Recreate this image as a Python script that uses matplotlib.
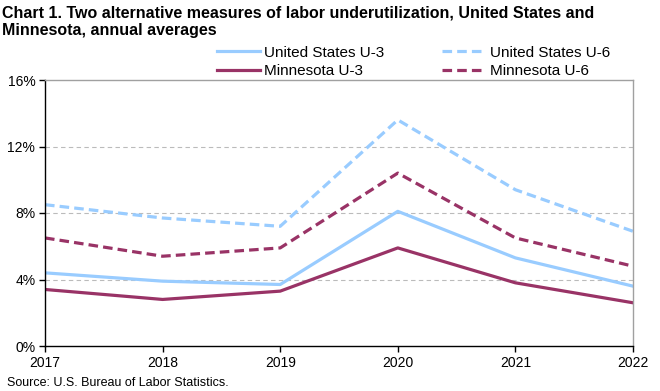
import matplotlib.pyplot as plt
from matplotlib.ticker import FuncFormatter

plt.rcParams["font.family"] = ["Liberation Sans", "DejaVu Sans"]

years = [2017, 2018, 2019, 2020, 2021, 2022]
us_u3 = [4.4, 3.9, 3.7, 8.1, 5.3, 3.6]
us_u6 = [8.5, 7.7, 7.2, 13.6, 9.4, 6.9]
mn_u3 = [3.4, 2.8, 3.3, 5.9, 3.8, 2.6]
mn_u6 = [6.5, 5.4, 5.9, 10.4, 6.5, 4.8]
y_ticks = [0, 4, 8, 12, 16]

LIGHT_BLUE = "#99CCFF"
MAROON = "#993366"

fig = plt.figure(figsize=(6.6, 3.91), dpi=100)
ax = fig.add_axes([45 / 660, 1 - 346 / 391, 588 / 660, 266 / 391])

ax.plot(years, us_u3, color=LIGHT_BLUE, lw=2.3, label="United States U-3")
ax.plot(years, mn_u3, color=MAROON, lw=2.3, label="Minnesota U-3")
ax.plot(years, us_u6, color=LIGHT_BLUE, lw=2.3, ls=(0, (3, 1.6)), label="United States U-6")
ax.plot(years, mn_u6, color=MAROON, lw=2.3, ls=(0, (3, 1.6)), label="Minnesota U-6")

ax.set_xlim(years[0], years[-1])
ax.set_ylim(y_ticks[0], y_ticks[-1])
ax.set_xticks(years)
ax.set_yticks(y_ticks)
ax.yaxis.set_major_formatter(FuncFormatter(lambda v, _: f"{v:.0f}%"))
ax.tick_params(labelsize=10, length=4, width=1, colors="black", pad=3)

for y in y_ticks[1:-1]:
    ax.axhline(y, color="#BBBBBB", lw=0.8, ls=(0, (4, 3)), zorder=0)

ax.spines["left"].set_color("black")
ax.spines["bottom"].set_color("black")
ax.spines["top"].set_color("#A0A0A0")
ax.spines["right"].set_color("#A0A0A0")
for s in ax.spines.values():
    s.set_linewidth(1)

leg = fig.legend(
    loc="upper left", bbox_to_anchor=(203 / 660, 1 - 32 / 391), ncol=2,
    frameon=False, fontsize=11, handlelength=2.8, handletextpad=0.3,
    columnspacing=3.8, labelspacing=0.3,
)

fig.text(0.003, 0.985, "Chart 1. Two alternative measures of labor underutilization, United States and\nMinnesota, annual averages",
         fontsize=11.5, fontweight="bold", va="top", ha="left", linespacing=1.15)
fig.text(0.01, 0.005, "Source: U.S. Bureau of Labor Statistics.", fontsize=9, va="bottom", ha="left")

fig.savefig("out.png", dpi=100)
